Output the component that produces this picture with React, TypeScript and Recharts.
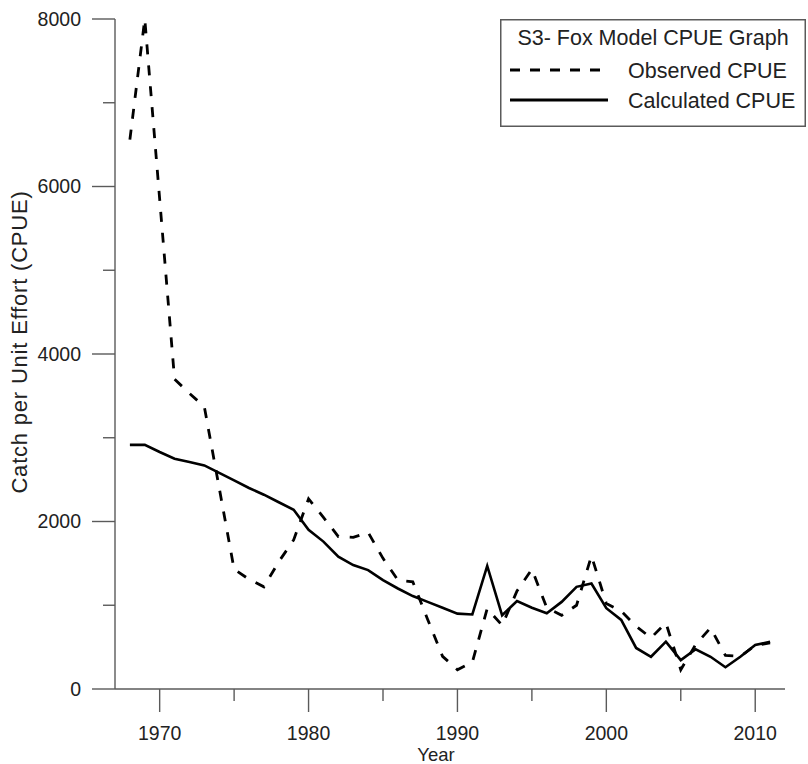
import React from "react";
import { LineChart, Line, XAxis, YAxis, Legend } from "recharts";

const years = [
  1968, 1969, 1970, 1971, 1972, 1973, 1974, 1975, 1976, 1977, 1978, 1979,
  1980, 1981, 1982, 1983, 1984, 1985, 1986, 1987, 1988, 1989, 1990, 1991,
  1992, 1993, 1994, 1995, 1996, 1997, 1998, 1999, 2000, 2001, 2002, 2003,
  2004, 2005, 2006, 2007, 2008, 2009, 2010, 2011,
];

const observedCPUE = [
  6560, 8000, 5850, 3700, 3530, 3370, 2400, 1430, 1310, 1220, 1520, 1780,
  2270, 2050, 1820, 1810, 1870, 1560, 1300, 1280, 830, 390, 230, 320,
  960, 760, 1170, 1430, 970, 880, 1000, 1590, 1020, 930, 750, 610,
  790, 230, 530, 730, 400, 390, 520, 550,
];

const calculatedCPUE = [
  2915, 2915, 2830, 2750, 2710, 2670, 2580, 2490, 2400, 2320, 2230, 2140,
  1900, 1760, 1580, 1480, 1420, 1300, 1200, 1110, 1040, 970, 900, 890,
  1470, 880, 1050, 970, 905, 1040, 1220, 1260, 965, 825, 490, 385,
  565, 345, 475, 385, 260, 385, 525, 565,
];

const xTicks = [1970, 1975, 1980, 1985, 1990, 1995, 2000, 2005, 2010];
const xMajor = [1970, 1980, 1990, 2000, 2010];
const yTicks = [0, 1000, 2000, 3000, 4000, 5000, 6000, 7000, 8000];
const yMajor = [0, 2000, 4000, 6000, 8000];

const legendTitle = "S3- Fox Model CPUE Graph";
const observedName = "Observed CPUE";
const calculatedName = "Calculated CPUE";
const xTitle = "Year";
const yTitle = "Catch per Unit Effort (CPUE)";

const data = years.map((y, i) => ({
  year: y,
  observed: observedCPUE[i],
  calculated: calculatedCPUE[i],
}));

const FONT = "'Liberation Sans', Arial, Helvetica, sans-serif";
const AXIS = "#5a5a5a";
const TEXT = "#222";

const XTick = (props: any) => {
  const { x, y, payload } = props;
  const major = xMajor.includes(payload.value);
  return (
    <g>
      <line x1={x} x2={x} y1={y} y2={y + (major ? 23 : 12)} stroke={AXIS} strokeWidth={1.4} />
      {major && (
        <text x={x} y={y + 51} textAnchor="middle" fontSize={19.5} fontFamily={FONT} fill={TEXT}>
          {payload.value}
        </text>
      )}
    </g>
  );
};

const YTick = (props: any) => {
  const { x, y, payload } = props;
  const major = yMajor.includes(payload.value);
  return (
    <g>
      <line x1={x - (major ? 23 : 12)} x2={x} y1={y} y2={y} stroke={AXIS} strokeWidth={1.4} />
      {major && (
        <text x={x - 34} y={y + 6.7} textAnchor="end" fontSize={19.5} fontFamily={FONT} fill={TEXT}>
          {payload.value}
        </text>
      )}
    </g>
  );
};

const renderLegend = () => (
  <svg width={306} height={108} style={{ display: "block" }}>
    <rect x={0.75} y={0.75} width={304.5} height={106.5} fill="#fff" stroke={AXIS} strokeWidth={1.5} />
    <text x={153} y={26} textAnchor="middle" fontSize={21.5} fontFamily={FONT} fill={TEXT}>
      {legendTitle}
    </text>
    <line x1={10} x2={108} y1={51} y2={51} stroke="#000" strokeWidth={2.8} strokeDasharray="10 10" />
    <text x={128} y={59} fontSize={21.5} fontFamily={FONT} fill={TEXT}>
      {observedName}
    </text>
    <line x1={10} x2={108} y1={81} y2={81} stroke="#000" strokeWidth={2.8} />
    <text x={128} y={89} fontSize={21.5} fontFamily={FONT} fill={TEXT}>
      {calculatedName}
    </text>
  </svg>
);

export default function App() {
  return (
    <div style={{ position: "absolute", left: 0, top: 0, background: "#fff" }}>
      <LineChart
        width={808}
        height={764}
        data={data}
        margin={{ top: 19, right: 23, bottom: 0, left: 0 }}
      >
        <XAxis
          dataKey="year"
          type="number"
          domain={[1967, 2012]}
          ticks={xTicks}
          interval={0}
          tickSize={0}
          tickMargin={0}
          tick={<XTick />}
          height={75}
          axisLine={{ stroke: AXIS, strokeWidth: 1.4 }}
          label={{
            content: () => (
              <text x={436} y={761} textAnchor="middle" fontSize={18.5} fontFamily={FONT} fill={TEXT}>
                {xTitle}
              </text>
            ),
          }}
        />
        <YAxis
          type="number"
          domain={[0, 8000]}
          ticks={yTicks}
          interval={0}
          tickSize={0}
          tickMargin={0}
          tick={<YTick />}
          width={115}
          axisLine={{ stroke: AXIS, strokeWidth: 1.4 }}
          label={{
            content: () => (
              <text
                x={0}
                y={0}
                transform="translate(27 342) rotate(-90)"
                textAnchor="middle"
                fontSize={22}
                letterSpacing={0.8}
                fontFamily={FONT}
                fill={TEXT}
              >
                {yTitle}
              </text>
            ),
          }}
        />
        <Legend
          layout="horizontal"
          verticalAlign="middle"
          align="center"
          content={renderLegend}
          wrapperStyle={{ left: 500, top: 19, width: 306, height: 108 }}
        />
        <Line
          dataKey="observed"
          stroke="#000"
          strokeWidth={2.8}
          strokeDasharray="10 11"
          dot={false}
          isAnimationActive={false}
          type="linear"
        />
        <Line
          dataKey="calculated"
          stroke="#000"
          strokeWidth={2.6}
          dot={false}
          isAnimationActive={false}
          type="linear"
        />
      </LineChart>
    </div>
  );
}
